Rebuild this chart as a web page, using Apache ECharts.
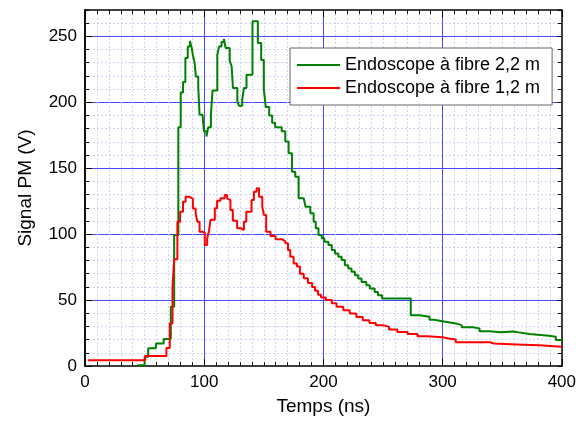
<!DOCTYPE html>
<html><head><meta charset="utf-8">
<script src="https://cdn.jsdelivr.net/npm/echarts@6/dist/echarts.min.js"></script>
<style>html,body{margin:0;padding:0;background:#fff}#c{width:579px;height:421px}</style>
</head><body><div id="c"></div>
<script>
const seriesNames = ['Endoscope à fibre 2,2 m', 'Endoscope à fibre 1,2 m'];
const xTitle = 'Temps (ns)';
const yTitle = 'Signal PM (V)';

const greenT = [44, 50, 53, 59.5, 66, 72, 74.8, 78.3, 80.3, 82.2,
  84.2, 86.2, 88, 89.6, 90.5, 92, 93, 95, 96.1, 98.6,
  99.8, 101.9, 103.3, 105.6, 107, 111, 112.5, 114.5, 116.5, 118,
  121.4, 123, 124.1, 127.8, 129.2, 131.9, 133.3, 135.5, 140.5, 145,
  147.8, 150, 151.6, 154.5, 157, 159.5, 165, 168, 170.8, 173.6,
  176.4, 179.2, 183.5, 185, 189, 191.8, 193.6, 195.9, 198.6, 200.8,
  204.2, 207, 209.7, 212.5, 215.3, 218, 220.8, 223.6, 226.4, 229.2,
  232, 236, 238.9, 243, 245.8, 249.2, 273.3, 280.5, 289, 293,
  301, 311, 316, 326, 331, 339, 349, 359, 364, 373,
  389, 395, 400];
const greenV = [0.5, 7, 13.5, 17, 20.5, 45, 99.3, 181, 207.4, 215.3,
  233.6, 242.4, 246.5, 241, 235.6, 229.8, 219.6, 212, 190.5, 189,
  178, 174, 181, 190.5, 209, 236, 242.4, 245.7, 248, 241.2,
  231.5, 227.2, 210.8, 200.6, 197.3, 201.9, 210.8, 220.9, 261.4, 245,
  232, 210, 196.5, 190, 184.5, 181, 178, 170.2, 161.4, 147.4,
  143.6, 127.2, 125.9, 120.8, 115.8, 109.4, 104.4, 99.3, 96.8, 94.2,
  91.7, 87.9, 85.4, 82.8, 80.3, 76.5, 74, 71.4, 68.9, 66.4,
  63.8, 61.3, 58.8, 56.2, 53.7, 51.2, 38.5, 37.3, 35, 33.8,
  32.3, 31, 29.3, 28.5, 26.3, 25.6, 26.2, 25.5, 24.3, 23,
  22.2, 19.8, 19.8];

const redT = [2.5, 50.5, 68.3, 71.1, 73.4, 74.8, 77.5, 79.8, 82.2, 84.4,
  87.2, 88.6, 90.5, 92.8, 94.2, 96.1, 98.3, 100.5, 102.5, 103.9,
  105.3, 108.9, 110.8, 113.6, 117.2, 119.2, 120.8, 122, 124, 127.6,
  131, 133.3, 135.3, 139.7, 141.7, 144, 146, 148.7, 150.1, 152,
  155.6, 159.8, 165.4, 168, 170.3, 172.2, 175, 177.8, 180.3, 183.5,
  187, 190.5, 193, 195.5, 198, 202, 207, 211, 216.7, 222,
  227.6, 233, 238.6, 244, 250, 255, 262, 270.6, 279, 287,
  300, 305, 311, 340, 343, 362, 381, 400];
const redV = [4.3, 7.6, 13.7, 32.2, 60, 80.9, 109.4, 117, 124.6, 128.4,
  129.7, 126.9, 119.5, 115.8, 109.4, 101.9, 101, 91.7, 96.8, 101.9,
  110.9, 119.6, 125.4, 127.2, 129.7, 127, 125.9, 118.3, 110.2, 104.4,
  103.1, 109.4, 117, 125.9, 132.2, 134.8, 128.4, 120.8, 114.5, 101.9,
  98.6, 96.1, 94.8, 93.1, 87.9, 82.8, 77.8, 75.5, 70, 66.5,
  63, 60, 57, 54, 52, 50, 47.5, 45, 42.3, 39.8,
  37.2, 34.7, 32.7, 31, 29.7, 27.7, 25.8, 24.2, 22.6, 21.8,
  20.8, 20.1, 18, 17.1, 16.4, 15.7, 14.6, 14.6];

const xMin = 0, xMax = 400, xInterval = 100;
const yMin = 0, yMax = 270, yMajor = 50, yMinor = 10;

const font = 'Arial, "Liberation Sans", sans-serif';
const blue = '#4848ff';
const minorColor = '#d2d2f6';
const black = '#000';
const axisLine = {show: true, onZero: false, lineStyle: {color: black, width: 1.5}};

const chart = echarts.init(document.getElementById('c'), null, {renderer: 'canvas'});
const option = {
  animation: false,
  backgroundColor: '#fff',
  grid: {left: 85, right: 14, top: 10, bottom: 55},
  legend: {
    orient: 'vertical', left: 290, top: 48,
    padding: [8, 12, 8, 7], itemGap: 5, itemWidth: 43, itemHeight: 2,
    icon: 'rect',
    borderColor: '#666', borderWidth: 1, backgroundColor: '#fff',
    textStyle: {fontSize: 18, color: black, fontFamily: font, lineHeight: 18},
    data: seriesNames
  },
  xAxis: [
    {
      type: 'value', min: xMin, max: xMax, interval: xInterval, position: 'bottom',
      axisLine: axisLine,
      axisTick: {inside: true, length: 7, lineStyle: {color: black}},
      minorTick: {show: true, splitNumber: 10, length: 4, lineStyle: {color: black}},
      axisLabel: {fontSize: 17, color: black, margin: 8, fontFamily: font},
      splitLine: {show: true, showMinLine: false, showMaxLine: false, lineStyle: {color: blue, width: 1}},
      minorSplitLine: {show: true, lineStyle: {color: minorColor, type: [2, 2], width: 1}},
      name: xTitle, nameLocation: 'middle', nameGap: 31,
      nameTextStyle: {fontSize: 19, color: black, fontFamily: font}
    },
    {
      type: 'value', min: xMin, max: xMax, interval: xInterval, position: 'top',
      axisLine: axisLine,
      axisTick: {inside: true, length: 7, lineStyle: {color: black}},
      minorTick: {show: true, splitNumber: 10, length: 4, lineStyle: {color: black}},
      axisLabel: {show: false}, splitLine: {show: false}
    }
  ],
  yAxis: [
    {
      type: 'value', min: yMin, max: yMax, interval: yMinor, position: 'left',
      axisLine: axisLine,
      axisTick: {inside: true, length: 4, lineStyle: {color: black}},
      axisLabel: {show: false},
      splitLine: {show: true, showMinLine: false, showMaxLine: false, lineStyle: {color: minorColor, type: [2, 2], width: 1}}
    },
    {
      type: 'value', min: yMin, max: yMax, interval: yMajor, position: 'left',
      axisLine: axisLine,
      axisTick: {inside: true, length: 7, lineStyle: {color: black}},
      axisLabel: {fontSize: 17, color: black, margin: 8, fontFamily: font, showMaxLabel: false},
      splitLine: {show: true, showMinLine: false, showMaxLine: false, lineStyle: {color: blue, width: 1}},
      name: yTitle, nameLocation: 'middle', nameGap: 50,
      nameTextStyle: {fontSize: 19, color: black, fontFamily: font}
    },
    {
      type: 'value', min: yMin, max: yMax, interval: yMinor, position: 'right',
      axisLine: axisLine,
      axisTick: {inside: true, length: 4, lineStyle: {color: black}},
      axisLabel: {show: false}, splitLine: {show: false}
    }
  ],
  series: [
    {
      name: seriesNames[0], type: 'line', step: 'end', symbol: 'none',
      xAxisIndex: 0, yAxisIndex: 0,
      data: greenT.map((t, i) => [t, greenV[i]]),
      lineStyle: {color: '#008000', width: 2}, itemStyle: {color: '#008000'}
    },
    {
      name: seriesNames[1], type: 'line', step: 'end', symbol: 'none',
      xAxisIndex: 0, yAxisIndex: 0,
      data: redT.map((t, i) => [t, redV[i]]),
      lineStyle: {color: '#ff0000', width: 2}, itemStyle: {color: '#ff0000'}
    }
  ]
};
chart.setOption(option);
</script>
</body></html>
